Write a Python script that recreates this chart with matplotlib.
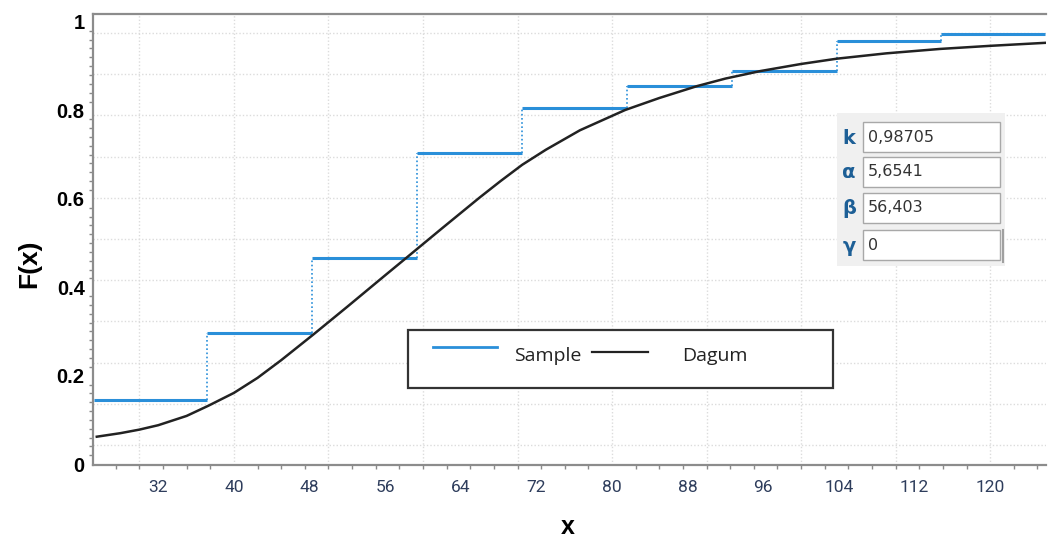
import matplotlib.pyplot as plt
from matplotlib.patches import Rectangle
from matplotlib.ticker import MultipleLocator
import numpy as np

# empirical CDF (sample) - step edges and levels
step_edges = [25.2, 37.2, 48.3, 59.4, 70.5, 81.6, 92.7, 103.8, 114.8, 125.8]
step_levels = [0.145, 0.296, 0.466, 0.704, 0.805, 0.855, 0.889, 0.957, 0.973]

# fitted Dagum CDF
curve_x = [25.5, 28, 30, 32, 35, 37.3, 40, 42.5, 45, 48.4, 52, 56, 58.1, 62, 66, 68.2,
           70.5, 73, 76.6, 81.4, 85, 89, 92, 95.7, 100, 103.8, 109, 114.7, 120, 126]
curve_f = [0.062, 0.070, 0.078, 0.088, 0.109, 0.132, 0.161, 0.195, 0.235, 0.293, 0.356,
           0.427, 0.464, 0.533, 0.603, 0.640, 0.677, 0.711, 0.755, 0.801, 0.828, 0.855,
           0.872, 0.889, 0.905, 0.917, 0.929, 0.939, 0.946, 0.953]

x_ticks = [32, 40, 48, 56, 64, 72, 80, 88, 96, 104, 112, 120]
y_ticks = [0, 0.2, 0.4, 0.6, 0.8, 1]
y_labels = ['0', '0.2', '0.4', '0.6', '0.8', '1']

param_names = ['k', 'α', 'β', 'γ']
param_values = ['0,98705', '5,6541', '56,403', '0']

blue = '#2a8fd9'
W, H = 1048, 537

fig = plt.figure(figsize=(W / 100, H / 100), dpi=100)
ax = fig.add_axes([93 / W, 1 - 465 / H, (1046 - 93) / W, (465 - 14) / H])

# faint dotted grid (software grid, not on tick positions)
for gx in range(30, 121, 10):
    ax.axvline(gx, color='#dcdcdc', lw=1, ls=(0, (1, 1.5)), zorder=0)
for gy in np.linspace(0.043, 0.975, 11):
    ax.axhline(gy, color='#dcdcdc', lw=1, ls=(0, (1, 1.5)), zorder=0)

ax.hlines(step_levels, step_edges[:-1], step_edges[1:], color=blue, lw=2.2, zorder=3)
ax.vlines(step_edges[1:-1], step_levels[:-1], step_levels[1:], color=blue, lw=1.2,
          linestyles=(0, (1, 1.5)), zorder=3)
ax.plot(curve_x, curve_f, color='#222222', lw=1.8, zorder=4)

ax.set_xlim(25.1, 125.9)
ax.set_ylim(-0.002, 1.018)

ax.set_xticks(x_ticks)
ax.set_xticklabels([str(t) for t in x_ticks], family='Roboto', fontsize=12.5,
                   color='#2e3d5c')
ax.set_yticks(y_ticks)
ax.set_yticklabels(y_labels, family='Liberation Sans', fontsize=14.5, fontweight='bold')
ax.xaxis.set_minor_locator(MultipleLocator(2.5))
ax.yaxis.set_minor_locator(MultipleLocator(0.02))
ax.tick_params(axis='x', which='major', length=0, pad=11)
ax.tick_params(axis='y', which='major', length=0, pad=6)
ax.tick_params(which='minor', length=3, width=1, color='#8a8a8a', direction='out')

for side in ['left', 'bottom', 'top']:
    ax.spines[side].set_color('#8c8c8c')
    ax.spines[side].set_linewidth(1.6)
ax.spines['right'].set_visible(False)

fig.text(568 / W, 1 - 527 / H, 'x', ha='center', va='center', fontsize=18,
         fontweight='bold', family='Liberation Sans')
fig.text(29 / W, 1 - 264 / H, 'F(x)', ha='center', va='center', rotation=90, fontsize=19,
         fontweight='bold', family='Liberation Sans')

# overlay in pixel coordinates for legend and parameter panel
ov = fig.add_axes([0, 0, 1, 1])
ov.set_xlim(0, W)
ov.set_ylim(H, 0)
ov.axis('off')

ov.add_patch(Rectangle((408, 330), 425, 58, fc='white', ec='#333333', lw=1.6))
ov.plot([433, 497], [347, 347], color=blue, lw=2)
ov.plot([592, 648], [352, 352], color='#222222', lw=1.6)
ov.text(514, 356, 'Sample', va='center', ha='left', fontsize=14, color='#222222',
        family='Open Sans')
ov.text(682, 356, 'Dagum', va='center', ha='left', fontsize=14, color='#222222',
        family='Open Sans')

ov.add_patch(Rectangle((837, 113), 168, 153, fc='#f0f0f0', ec='none'))
box_tops = [122, 157, 193, 230]
for name, val, top in zip(param_names, param_values, box_tops):
    ov.add_patch(Rectangle((863, top), 137, 30, fc='white', ec='#a8a8a8', lw=1))
    ov.text(849, top + 16, name, ha='center', va='center', fontsize=14, fontweight='bold',
            color='#1d5f96', family='DejaVu Sans')
    ov.text(868, top + 15, val, ha='left', va='center', fontsize=11.5,
            color='#333333', family='DejaVu Sans')
ov.plot([1003, 1003], [230, 262], color='#a0a0a0', lw=1.5)

fig.savefig('out.png', dpi=100)
